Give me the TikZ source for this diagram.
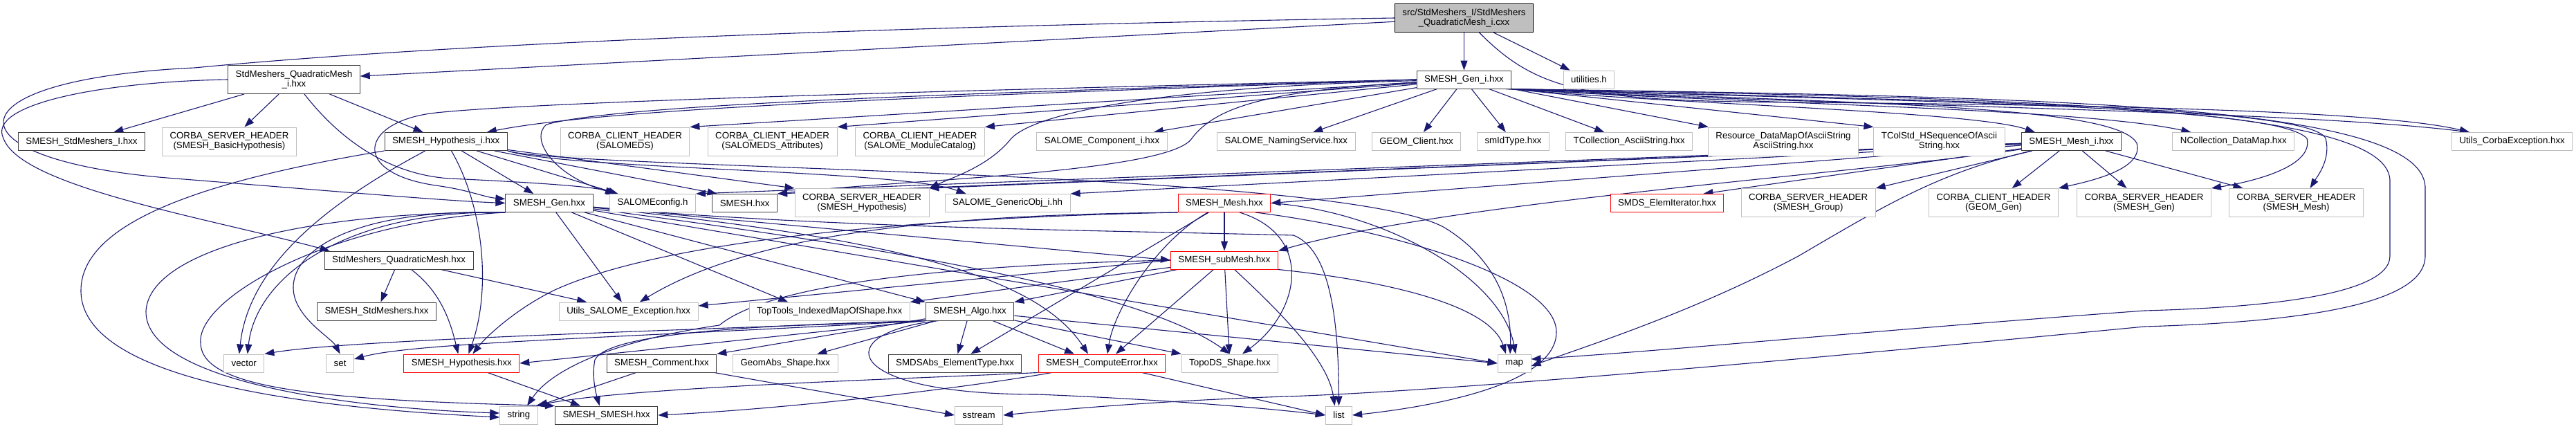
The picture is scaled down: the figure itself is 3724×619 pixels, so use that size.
\documentclass[tikz,border=0pt]{standalone}
\usepackage{fontspec}
\newfontfamily\graphfont{Liberation Sans}
\usetikzlibrary{arrows.meta}
\pgfdeclarelayer{edges}
\pgfsetlayers{edges,main}

\definecolor{edgeblue}{HTML}{191970}
\definecolor{boxgrey}{HTML}{BFBFBF}
\definecolor{boxdark}{HTML}{404040}

\tikzset{
  file/.style={draw=boxdark, fill=white, line width=1pt,
    font=\graphfont\fontsize{13.3}{14}\selectfont,
    inner xsep=11pt, inner ysep=1pt, minimum height=26pt, align=center},
  extfile/.style={file, draw=boxgrey},
  cutfile/.style={file, draw=red},
  mainfile/.style={file, draw=black, fill=boxgrey},
  twoline/.style={minimum height=41pt},
  incl/.style={draw=edgeblue, line width=1.1pt, -{Triangle[length=14pt,width=10pt]}},
}

\begin{document}
\begin{tikzpicture}[x=1pt,y=-1pt]
\useasboundingbox (0,0) rectangle (3724,619);

% the file itself and its first includes
\node[mainfile, twoline] (root) at (2116.5,26) {src/StdMeshers\_I/StdMeshers\\\_QuadraticMesh\_i.cxx};
\node[file, twoline] (qmi) at (425,115) {StdMeshers\_QuadraticMesh\\\_i.hxx};
\node[file] (geni) at (2116.5,115) {SMESH\_Gen\_i.hxx};
\node[extfile] (util) at (2297,115) {utilities.h};

% second row
\node[file] (smi) at (118,204.5) {SMESH\_StdMeshers\_I.hxx};
\node[extfile, twoline] (csbh) at (331.5,204.5) {CORBA\_SERVER\_HEADER\\(SMESH\_BasicHypothesis)};
\node[file] (hypi) at (644.7,204.5) {SMESH\_Hypothesis\_i.hxx};
\node[extfile, twoline] (ccsds) at (903.5,204.5) {CORBA\_CLIENT\_HEADER\\(SALOMEDS)};
\node[extfile, twoline] (ccsdsattr) at (1116.6,204.5) {CORBA\_CLIENT\_HEADER\\(SALOMEDS\_Attributes)};
\node[extfile, twoline] (ccmodcat) at (1330,204.5) {CORBA\_CLIENT\_HEADER\\(SALOME\_ModuleCatalog)};
\node[extfile] (salcomp) at (1593,204.5) {SALOME\_Component\_i.hxx};
\node[extfile] (salnaming) at (1859.4,204.5) {SALOME\_NamingService.hxx};
\node[extfile] (geomclient) at (2047.5,204.5) {GEOM\_Client.hxx};
\node[extfile] (smidtype) at (2187.5,204.5) {smIdType.hxx};
\node[extfile] (tcollascii) at (2355.2,204.5) {TCollection\_AsciiString.hxx};
\node[extfile, twoline] (resource) at (2578,204.5) {Resource\_DataMapOfAsciiString\\AsciiString.hxx};
\node[extfile, twoline] (tcolstd) at (2803.5,204.5) {TColStd\_HSequenceOfAscii\\String.hxx};
\node[file] (meshi) at (2994.3,204.5) {SMESH\_Mesh\_i.hxx};
\node[extfile] (ncoll) at (3228.8,204.5) {NCollection\_DataMap.hxx};
\node[extfile] (utilscorba) at (3631.7,204.5) {Utils\_CorbaException.hxx};

% third row
\node[file] (gen) at (794,293.5) {SMESH\_Gen.hxx};
\node[extfile] (salconf) at (943.5,293.5) {SALOMEconfig.h};
\node[file] (smesh) at (1076.7,293.5) {SMESH.hxx};
\node[extfile, twoline] (cshyp) at (1246,293) {CORBA\_SERVER\_HEADER\\(SMESH\_Hypothesis)};
\node[extfile] (genobj) at (1456.6,293.5) {SALOME\_GenericObj\_i.hh};
\node[cutfile] (mesh) at (1770,293.5) {SMESH\_Mesh.hxx};
\node[cutfile] (elemiter) at (2410,293.5) {SMDS\_ElemIterator.hxx};
\node[extfile, twoline] (csgroup) at (2614.2,293) {CORBA\_SERVER\_HEADER\\(SMESH\_Group)};
\node[extfile, twoline] (ccgeomgen) at (2882,293) {CORBA\_CLIENT\_HEADER\\(GEOM\_Gen)};
\node[extfile, twoline] (csgen) at (3099.5,293) {CORBA\_SERVER\_HEADER\\(SMESH\_Gen)};
\node[extfile, twoline] (csmesh) at (3319.5,293) {CORBA\_SERVER\_HEADER\\(SMESH\_Mesh)};

% lower rows
\node[file] (qm) at (576.6,376) {StdMeshers\_QuadraticMesh.hxx};
\node[cutfile] (submesh) at (1770,376) {SMESH\_subMesh.hxx};
\node[file] (sms) at (544.6,450) {SMESH\_StdMeshers.hxx};
\node[extfile] (utilsexc) at (908.7,450) {Utils\_SALOME\_Exception.hxx};
\node[extfile] (toptools) at (1199.2,450) {TopTools\_IndexedMapOfShape.hxx};
\node[file] (algo) at (1402,450) {SMESH\_Algo.hxx};
\node[extfile] (vector) at (352.8,525) {vector};
\node[extfile] (set) at (491.6,525) {set};
\node[cutfile] (hyp) at (667.4,525) {SMESH\_Hypothesis.hxx};
\node[file] (comment) at (956.5,525) {SMESH\_Comment.hxx};
\node[extfile] (geomabs) at (1135.3,525) {GeomAbs\_Shape.hxx};
\node[file] (elemtype) at (1380.6,525) {SMDSAbs\_ElementType.hxx};
\node[cutfile] (computeerr) at (1593,525) {SMESH\_ComputeError.hxx};
\node[extfile] (topods) at (1778,525) {TopoDS\_Shape.hxx};
\node[extfile] (map) at (2189.1,525) {map};
\node[extfile] (string) at (750,600) {string};
\node[file] (smeshsmesh) at (876.7,600) {SMESH\_SMESH.hxx};
\node[extfile] (sstream) at (1415.1,600) {sstream};
\node[extfile] (list) at (1935.5,600) {list};

\begin{pgfonlayer}{edges}
% includes of the .cxx file
\draw[incl] (root) -- (qmi);
\draw[incl] (root.west) .. controls (1400,36) and (700,58) .. (281,98) .. controls (-80,115) and (-80,230) .. (241,257) .. controls (480,276) and (640,290) .. (gen.west);
\draw[incl] (root) -- (geni);
\draw[incl] (root) -- (util);
\draw[incl] ([xshift=22pt]root.south) .. controls (2225,135) and (2300,146) .. (2600,148) .. controls (3100,152) and (3450,162) .. ([xshift=26pt]utilscorba.north west);

% StdMeshers_QuadraticMesh_i.hxx
\draw[incl] (qmi) -- (smi);
\draw[incl] (qmi) -- (csbh);
\draw[incl] (qmi) -- (hypi);
\draw[incl] ([xshift=15pt]qmi.south) .. controls (490,200) and (560,252) .. (650,258) .. controls (780,264) and (860,270) .. ([xshift=8pt]salconf.north west);
\draw[incl] (qmi.west) .. controls (150,118) and (-20,150) .. (5,200) .. controls (30,270) and (300,315) .. ([xshift=8pt]qm.north west);

% SMESH_Gen_i.hxx, to the left
\draw[incl] (geni.west) .. controls (1500,135) and (900,152) .. ([xshift=-30pt]hypi.north east);
\draw[incl] (geni.west) .. controls (1500,128) and (800,145) .. (630,163) .. controls (520,175) and (505,250) .. (630,268) .. controls (680,275) and (700,285) .. ([yshift=6pt]gen.west);
\draw[incl] (geni.west) .. controls (1500,132) and (900,148) .. (790,180) .. controls (765,200) and (800,255) .. ([xshift=10pt]salconf.north west);
\draw[incl] (geni) -- (ccsds.north east);
\draw[incl] (geni) -- (ccsdsattr.north east);
\draw[incl] (geni) -- (ccmodcat.north east);
\draw[incl] (geni) -- ([xshift=-20pt]salcomp.north east);
\draw[incl] (geni) .. controls (1700,125) and (1500,160) .. (1462,200) .. controls (1430,240) and (1380,255) .. (cshyp.north east);
\draw[incl] (geni) .. controls (1850,130) and (1760,150) .. (1723,200) .. controls (1690,250) and (1300,260) .. (smesh.north east);
% SMESH_Gen_i.hxx, below and to the right
\draw[incl] (geni) -- (salnaming);
\draw[incl] (geni) -- (geomclient);
\draw[incl] (geni) -- (smidtype);
\draw[incl] (geni) -- (tcollascii);
\draw[incl] (geni) -- (resource);
\draw[incl] (geni.south east) -- (tcolstd.north west);
\draw[incl] (geni.south east) .. controls (2400,150) and (2850,160) .. ([xshift=20pt]meshi.north west);
\draw[incl] (geni.south east) .. controls (2500,150) and (3000,155) .. ([xshift=27pt]ncoll.north west);
\draw[incl] ([xshift=-8pt]geni.south east) .. controls (2600,152) and (3300,158) .. ([xshift=26pt]utilscorba.north west);
\draw[incl] ([xshift=-4pt]geni.south east) .. controls (2700,150) and (3060,152) .. (3089,207) .. controls (3100,245) and (3020,262) .. (ccgeomgen.north east);
\draw[incl] ([xshift=-4pt]geni.south east) .. controls (2800,148) and (3290,152) .. (3335,200) .. controls (3345,240) and (3260,262) .. (csgen.north east);
\draw[incl] ([xshift=-4pt]geni.south east) .. controls (2800,146) and (3340,152) .. (3362,200) .. controls (3370,230) and (3350,255) .. ([xshift=20pt]csmesh.north);
\draw[incl] ([xshift=-8pt]geni.south east) .. controls (2900,142) and (3450,150) .. (3455,260) -- (3455,370) .. controls (3455,430) and (3250,445) .. (3100,449) .. controls (2700,478) and (2400,508) .. ([yshift=6pt]map.east);
\draw[incl] ([xshift=-8pt]geni.south east) .. controls (2950,140) and (3500,148) .. (3506,270) -- (3506,370) .. controls (3506,445) and (3300,466) .. (3100,472) .. controls (2600,520) and (2100,565) .. (1860,573) .. controls (1700,578) and (1550,590) .. (sstream.east);

% SMESH_Mesh_i.hxx
\draw[incl] (meshi) -- (csgroup.north east);
\draw[incl] (meshi) -- (ccgeomgen);
\draw[incl] (meshi) -- (csgen);
\draw[incl] (meshi) -- (csmesh);
\draw[incl] (meshi) -- ([xshift=-30pt]elemiter.north east);
\draw[incl] (meshi) -- (mesh.east);
\draw[incl] (meshi) .. controls (2700,250) and (2100,290) .. (submesh.north east);
\draw[incl] (meshi) .. controls (2800,250) and (2720,300) .. (2600,370) .. controls (2450,450) and (2300,498) .. ([yshift=-4pt]map.east);
\draw[incl] (meshi) -- (salconf.north east);
\draw[incl] (meshi) -- (smesh.north east);
\draw[incl] (meshi) -- (cshyp.north east);
\draw[incl] (meshi) -- (genobj.north east);

% SMESH_Hypothesis_i.hxx
\draw[incl] (hypi) -- (gen);
\draw[incl] (hypi) -- ([xshift=-50pt]salconf.north);
\draw[incl] (hypi) -- ([xshift=-40pt]smesh.north);
\draw[incl] (hypi) -- (cshyp.north west);
\draw[incl] (hypi.south east) .. controls (820,245) and (1300,245) .. ([xshift=-60pt]genobj.north);
\draw[incl] (hypi) .. controls (700,300) and (710,420) .. ([xshift=10pt]hyp.north);
\draw[incl] ([xshift=-30pt]hypi.south) .. controls (480,290) and (360,380) .. ([xshift=-7pt]vector.north);
\draw[incl] (hypi.south west) .. controls (300,260) and (117,320) .. (117,420) .. controls (117,560) and (500,592) .. ([yshift=-3pt]string.west);
\draw[incl] (hypi.south east) .. controls (820,245) and (1950,245) .. (2090,330) .. controls (2170,380) and (2185,450) .. ([xshift=-6pt]map.north);

% SMESH_Gen.hxx
\draw[incl] (gen) -- (utilsexc);
\draw[incl] (gen) -- ([xshift=-60pt]toptools.north);
\draw[incl] (gen) -- (algo.north west);
\draw[incl] (gen) -- (submesh.west);
\draw[incl] (gen) .. controls (1300,345) and (1500,400) .. ([xshift=-20pt]computeerr.north);
\draw[incl] (gen) .. controls (1300,360) and (1650,420) .. (topods.north);
\draw[incl] (gen) -- (map.west);
\draw[incl] (gen) .. controls (1200,330) and (1600,333) .. (1870,340) .. controls (1920,360) and (1935,450) .. (list.north);
\draw[incl] (gen.south west) .. controls (500,303) and (370,400) .. ([xshift=5pt]vector.north);
\draw[incl] (gen.south west) .. controls (480,300) and (400,380) .. (430,440) .. controls (445,470) and (480,490) .. (set.north);
\draw[incl] (gen.south west) .. controls (450,305) and (215,360) .. (211,450) .. controls (210,550) and (500,590) .. ([yshift=3pt]string.west);
\draw[incl] (gen.south west) .. controls (480,320) and (285,430) .. (290,495) .. controls (290,560) and (450,578) .. (smeshsmesh.north west);

% StdMeshers_QuadraticMesh.hxx
\draw[incl] (qm) -- (sms);
\draw[incl] (qm) .. controls (635,420) and (650,460) .. ([xshift=-5pt]hyp.north);
\draw[incl] (qm) -- (utilsexc);

% SMESH_Mesh.hxx
\draw[incl] (mesh) -- (submesh);
\draw[incl] (mesh) -- (elemtype);
\draw[incl] (mesh) .. controls (1670,350) and (1610,450) .. ([xshift=8pt]computeerr.north);
\draw[incl] ([xshift=22pt]mesh.south) .. controls (1900,340) and (1880,450) .. ([xshift=18pt]topods.north);
\draw[incl] (mesh.east) .. controls (2000,305) and (2170,400) .. ([xshift=2pt]map.north);
\draw[incl] ([xshift=45pt]mesh.south) .. controls (2000,330) and (2250,400) .. (2250,480) .. controls (2250,560) and (2050,590) .. (list.east);
\draw[incl] (mesh.south west) .. controls (1400,310) and (1100,330) .. ([xshift=16pt]utilsexc.north);
\draw[incl] (mesh.south west) .. controls (1300,315) and (950,350) .. (800,420) .. controls (740,450) and (700,490) .. ([xshift=16pt]hyp.north);

% SMESH_subMesh.hxx
\draw[incl] (submesh) -- (toptools.north east);
\draw[incl] (submesh.west) -- ([yshift=8pt]utilsexc.east);
\draw[incl] (submesh) -- (algo.north east);
\draw[incl] (submesh) -- ([xshift=20pt]computeerr.north);
\draw[incl] (submesh) -- (topods);
\draw[incl] (submesh.south east) .. controls (1950,400) and (2150,430) .. ([xshift=-12pt]map.north);
\draw[incl] (submesh) .. controls (1850,450) and (1920,520) .. ([xshift=-6pt]list.north);
\draw[incl] (submesh.west) .. controls (1300,385) and (1100,420) .. (1040,470) .. controls (900,490) and (800,530) .. ([xshift=12pt]string.north);

% SMESH_Algo.hxx
\draw[incl] (algo) -- (elemtype);
\draw[incl] (algo) -- ([xshift=-40pt]computeerr.north);
\draw[incl] (algo) -- (topods.north west);
\draw[incl] (algo) -- (comment.north east);
\draw[incl] (algo) -- ([xshift=46pt]geomabs.north);
\draw[incl] (algo.south west) -- (hyp.east);
\draw[incl] (algo.south west) .. controls (900,480) and (500,492) .. (vector.north east);
\draw[incl] (algo.south west) .. controls (900,488) and (600,495) .. ([yshift=6pt]set.east);
\draw[incl] (algo.south west) .. controls (1100,470) and (880,480) .. (860,520) .. controls (855,545) and (862,570) .. ([xshift=-10pt]smeshsmesh.north);
\draw[incl] (algo) -- (map.west);
\draw[incl] ([xshift=-45pt]algo.south) .. controls (1200,480) and (1210,570) .. (1500,570) .. controls (1700,578) and (1850,592) .. (list.west);

% remaining small headers
\draw[incl] ([xshift=-37pt]comment.south) -- (string.north east);
\draw[incl] (comment) -- (sstream.west);
\draw[incl] (computeerr) -- (list.west);
\draw[incl] (computeerr.south west) .. controls (1300,548) and (900,560) .. ([xshift=-3pt]string.north east);
\draw[incl] ([xshift=20pt]computeerr.south west) .. controls (1400,560) and (1150,590) .. (smeshsmesh.east);
\draw[incl] (hyp) -- (smeshsmesh);
\end{pgfonlayer}
\end{tikzpicture}
\end{document}
